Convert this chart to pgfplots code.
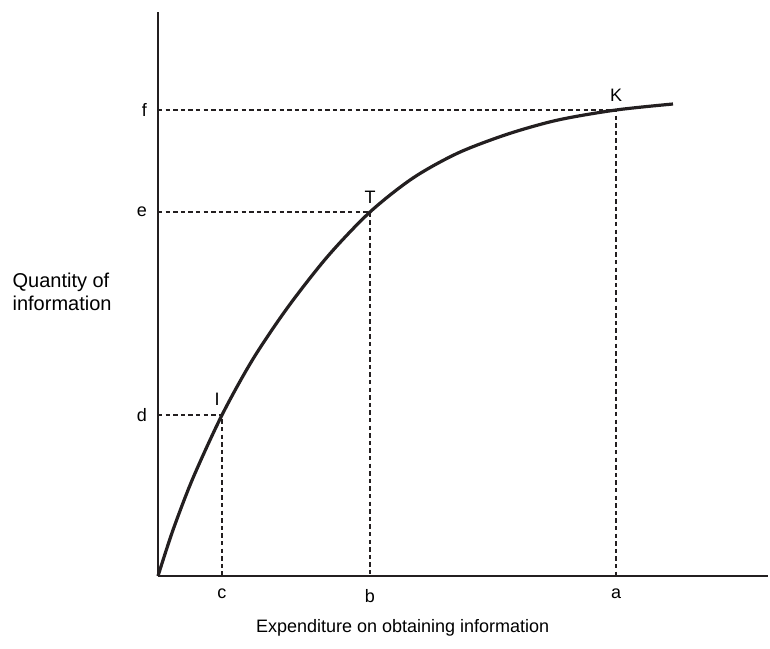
\documentclass[border=0pt]{standalone}
\usepackage{pgfplots}
\pgfplotsset{compat=1.18}
\usepackage{fontspec}
\setmainfont{Liberation Sans}
\definecolor{ink}{HTML}{231F20}

\begin{document}
\begin{tikzpicture}[font=\fontsize{9}{11}\selectfont]
  \useasboundingbox (-79pt,-36pt) rectangle (306pt,288pt);
  \begin{axis}[
    at={(0,0)}, anchor=origin,
    scale only axis,
    width=305pt, height=282pt,
    xmin=0, xmax=610, ymin=0, ymax=564,
    axis lines=left,
    axis line style={-, line width=0.75pt, ink},
    major tick length=0pt,
    xtick={64,212,458}, xticklabels={c,b,a},
    ytick={161,364,466}, yticklabels={d,e,f},
    xticklabel style={yshift=-3pt},
    yticklabel style={xshift=-2pt},
    xlabel={Expenditure on obtaining information},
    xlabel style={at={(rel axis cs:0.401,-0.092)}, anchor=center},
    ylabel={Quantity of\\information},
    ylabel style={rotate=-90, align=left, inner sep=0pt,
      font=\fontsize{10}{11.5}\selectfont,
      at={(rel axis cs:-0.239,0.504)}, anchor=west},
    clip=false,
  ]
    % information curve
    \addplot[ink, line width=1.6pt, smooth] coordinates {
      (0,0) (15,46) (35,98) (64,161) (95,217) (130,269) (170,320)
      (212,364) (255,398) (300,423) (350,442) (400,456) (458,466) (515,472)
    };
    % guide lines
    \addplot[ink, line width=1.2pt, dash pattern=on 2.2pt off 1.6pt] coordinates {(0,161) (64,161) (64,0)};
    \addplot[ink, line width=1.2pt, dash pattern=on 2.2pt off 1.6pt] coordinates {(0,364) (212,364) (212,0)};
    \addplot[ink, line width=1.2pt, dash pattern=on 2.2pt off 1.6pt] coordinates {(0,466) (458,466) (458,0)};

    \node[anchor=south, xshift=-2.5pt, yshift=1pt] at (axis cs:64,161) {I};
    \node[anchor=south, yshift=0.5pt] at (axis cs:212,364) {T};
    \node[anchor=south, yshift=0.5pt] at (axis cs:458,466) {K};
  \end{axis}
\end{tikzpicture}
\end{document}
